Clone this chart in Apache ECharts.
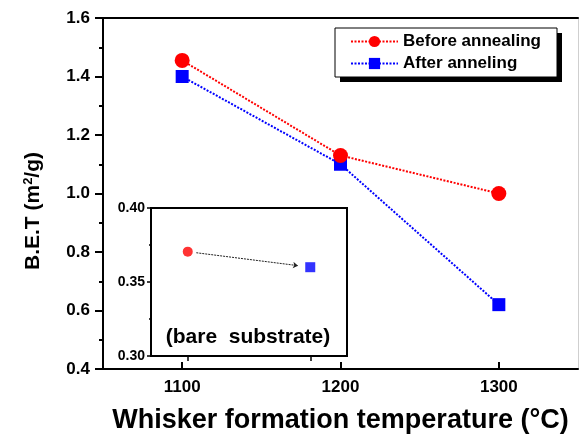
<!DOCTYPE html>
<html>
<head>
<meta charset="utf-8">
<script src="https://cdn.jsdelivr.net/npm/echarts@6/dist/echarts.min.js"></script>
<style>html,body{margin:0;padding:0;background:#fff;}#c{width:579px;height:439px;}</style>
</head>
<body>
<div id="c"></div>
<script>
// ---- data ----
var temperatures = [1100, 1200, 1300];
var beforeAnnealing = [1.455, 1.13, 1.0];
var afterAnnealing = [1.40, 1.10, 0.62];
var seriesNames = ['Before annealing', 'After anneling'];
var xTicks = [1100, 1200, 1300];
// inset: bare substrate (x = 0 before, 1 after)
var insetX = [0, 1];
var insetBefore = [0.3705];
var insetAfter = [0.360];
var insetLabel = '(bare  substrate)';

var FONT = '"Liberation Sans", Arial, sans-serif';

function pairs(xs, ys) { return xs.map(function (x, i) { return [x, ys[i]]; }); }

// arrow from first inset point toward second, shortened so it sits between the markers
var p0 = [insetX[0], insetBefore[0]], p1 = [insetX[1], insetAfter[0]];
function lerp(t) { return [p0[0] + (p1[0] - p0[0]) * t, p0[1] + (p1[1] - p0[1]) * t]; }

var chart = echarts.init(document.getElementById('c'));
chart.setOption({
  animation: false,
  textStyle: { fontFamily: FONT },
  legend: {
    data: seriesNames,
    orient: 'vertical',
    left: 350, top: 33,
    padding: 0,
    itemWidth: 47, itemHeight: 14, itemGap: 5,
    z: 12,
    textStyle: { fontFamily: FONT, fontWeight: 'bold', fontSize: 17, color: '#000' }
  },
  grid: [
    { left: 103, top: 18, right: 1, bottom: 69 },
    { left: 151, top: 208, width: 196, height: 148, show: true, backgroundColor: '#fff', borderColor: '#000', borderWidth: 2, z: 3 }
  ],
  xAxis: [
    {
      gridIndex: 0, type: 'value', min: 1050, max: 1350,
      axisLine: { lineStyle: { color: '#000', width: 2 } },
      axisTick: { show: true, inside: true, length: 7, lineStyle: { color: '#000', width: 2 }, customValues: xTicks },
      axisLabel: { customValues: xTicks, color: '#000', fontWeight: 'bold', fontSize: 17, fontFamily: FONT, margin: 10,
        formatter: function (v) { return String(v); } },
      splitLine: { show: false },
      name: 'Whisker formation temperature (\u00B0C)',
      nameLocation: 'middle', nameGap: 38,
      nameTextStyle: { color: '#000', fontWeight: 'bold', fontSize: 27, fontFamily: FONT }
    },
    {
      gridIndex: 0, type: 'value', position: 'top', min: 1050, max: 1350,
      axisLine: { show: true, lineStyle: { color: '#000', width: 2 } },
      axisTick: { show: false }, axisLabel: { show: false }, splitLine: { show: false }
    },
    {
      gridIndex: 1, type: 'value', min: -0.3, max: 1.3,
      axisLine: { show: true, onZero: false, lineStyle: { color: '#000', width: 2 } },
      axisTick: { show: true, inside: false, length: 5, lineStyle: { color: '#000', width: 1.5 }, customValues: insetX },
      axisLabel: { show: false }, splitLine: { show: false }, z: 4
    }
  ],
  yAxis: [
    {
      gridIndex: 0, type: 'value', min: 0.4, max: 1.6, interval: 0.2,
      axisLine: { show: true, onZero: false, lineStyle: { color: '#000', width: 2 } },
      axisTick: { show: true, inside: false, length: 8, lineStyle: { color: '#000', width: 2 } },
      minorTick: { show: true, splitNumber: 2, length: 4, lineStyle: { color: '#000', width: 2 } },
      axisLabel: { color: '#000', fontWeight: 'bold', fontSize: 17, fontFamily: FONT, margin: 13,
        formatter: function (v) { return v.toFixed(1); } },
      splitLine: { show: false },
      name: 'B.E.T (m{sup|2}/g)',
      nameLocation: 'middle', nameGap: 58, nameRotate: 90,
      nameTextStyle: { color: '#000', fontWeight: 'bold', fontSize: 21, fontFamily: FONT, padding: [0, 35, 0, 0],
        rich: { sup: { fontSize: 13, fontWeight: 'bold', fontFamily: FONT, color: '#000', verticalAlign: 'top', padding: [0, 0, 10, 0] } } }
    },
    {
      gridIndex: 0, type: 'value', position: 'right', min: 0.4, max: 1.6,
      axisLine: { show: true, onZero: false, lineStyle: { color: '#cfcfcf', width: 1 } },
      axisTick: { show: false }, axisLabel: { show: false }, splitLine: { show: false }
    },
    {
      gridIndex: 1, type: 'value', min: 0.3, max: 0.4, interval: 0.05,
      axisLine: { show: true, onZero: false, lineStyle: { color: '#000', width: 2 } },
      axisTick: { show: true, inside: false, length: 4, lineStyle: { color: '#000', width: 1.5 } },
      minorTick: { show: true, splitNumber: 2, length: 2, lineStyle: { color: '#000', width: 1.5 } },
      axisLabel: { color: '#000', fontWeight: 'bold', fontSize: 14, fontFamily: FONT, margin: 6,
        formatter: function (v) { return v.toFixed(2); } },
      splitLine: { show: false }, z: 4
    }
  ],
  series: [
    {
      name: seriesNames[1], type: 'line', xAxisIndex: 0, yAxisIndex: 0,
      data: pairs(temperatures, afterAnnealing),
      symbol: 'rect', symbolSize: 13, z: 2,
      itemStyle: { color: '#0000ff' },
      lineStyle: { color: '#0000ff', width: 2, type: [2, 1.5] }
    },
    {
      name: seriesNames[0], type: 'line', xAxisIndex: 0, yAxisIndex: 0,
      data: pairs(temperatures, beforeAnnealing),
      symbol: 'circle', symbolSize: 15, z: 3,
      itemStyle: { color: '#ff0000' },
      lineStyle: { color: '#ff0000', width: 2, type: [2, 1.5] }
    },
    {
      type: 'lines', coordinateSystem: 'cartesian2d', xAxisIndex: 2, yAxisIndex: 2, z: 5,
      symbol: ['none', 'arrow'], symbolSize: 5,
      lineStyle: { color: '#222', width: 1, type: [2, 1], opacity: 1 },
      data: [{ coords: [lerp(0.07), lerp(0.9)] }]
    },
    {
      type: 'scatter', xAxisIndex: 2, yAxisIndex: 2, z: 6,
      data: [[insetX[0], insetBefore[0]]], symbol: 'circle', symbolSize: 10,
      itemStyle: { color: '#ff0000' }
    },
    {
      type: 'scatter', xAxisIndex: 2, yAxisIndex: 2, z: 6,
      data: [[insetX[1], insetAfter[0]]], symbol: 'rect', symbolSize: 10,
      itemStyle: { color: '#0000ff' }
    }
  ],
  graphic: [
    { type: 'rect', z: 10, shape: { x: 340, y: 33, width: 222, height: 49 }, style: { fill: '#000' } },
    { type: 'rect', z: 11, shape: { x: 335, y: 28, width: 222, height: 49 }, style: { fill: '#fff', stroke: '#000', lineWidth: 1 } },
    {
      type: 'text', z: 10, x: 248, y: 337,
      style: { text: insetLabel, font: 'bold 21px ' + FONT, fill: '#000',
        align: 'center', verticalAlign: 'middle' }
    }
  ]
});
</script>
</body>
</html>
